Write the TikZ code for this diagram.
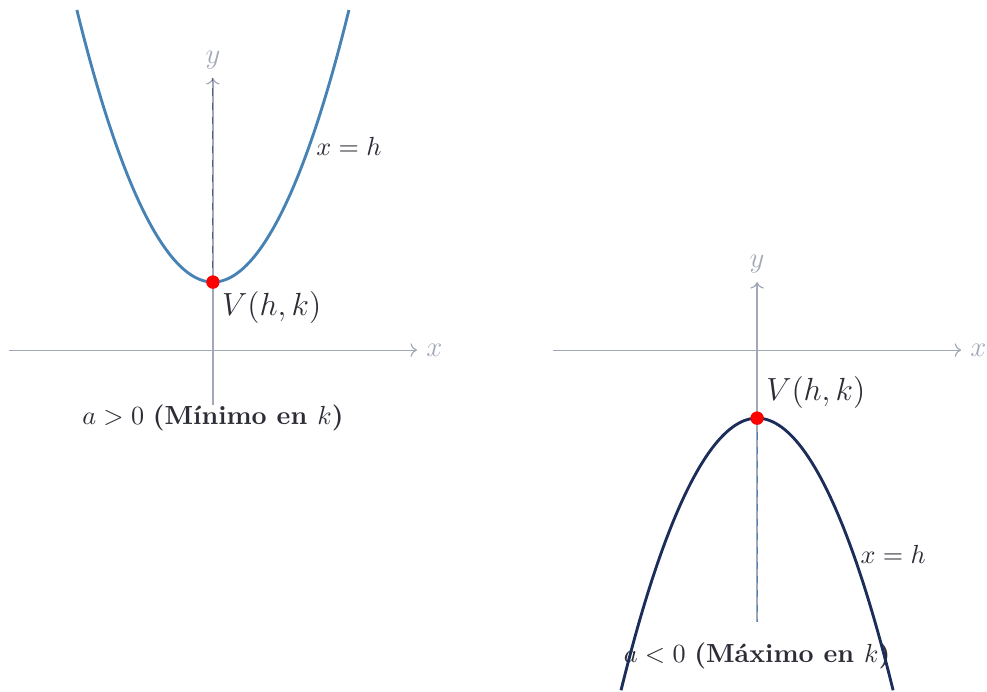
\documentclass[11pt,tikz,border=0pt]{standalone}
\usepackage{amsmath,amssymb}
\usepackage{graphicx}
\usepackage{tikz}
\usetikzlibrary{arrows.meta,positioning}
\usepackage{xcolor}
\definecolor{cSteel}{RGB}{70,130,180}
\definecolor{cNavy}{RGB}{28,45,90}
\definecolor{cAxis}{RGB}{162,168,184}
\definecolor{cText}{RGB}{45,45,55}
\definecolor{cDash}{RGB}{85,95,125}
\newcommand{\vtxlab}{\scalebox{0.93}{$V(h,k)$}}
\tikzset{
  axisline/.style={->,line width=0.5pt,color=cAxis},
  axislabel/.style={font=\large,text=cAxis},
  upcurve/.style={very thick,color=cSteel},
  downcurve/.style={very thick,color=cNavy},
  navydash/.style={dashed,thin,color=cDash},
  steeldash/.style={dashed,thin,color=cSteel},
  vertexdot/.style={circle,fill=red,inner sep=0pt,minimum size=5.5pt},
  vlabel/.style={font=\Large,text=cText},
  eqlabel/.style={text=cText},
  caplabel/.style={text=cText}
}

\begin{document}
\begin{tikzpicture}
  \useasboundingbox (-3.13,-5.015) rectangle (11.38,5.147);

  % a > 0
  \coordinate (Lxl) at (-3,0);
  \coordinate (Lxr) at (3,0);
  \coordinate (Lyb) at (0,-0.8);
  \coordinate (Lyt) at (0,4);
  \draw[axisline] (Lxl) -- (Lxr) node[axislabel,right] (Lxlab) {$x$};
  \draw[axisline] (Lyb) -- (Lyt) node[axislabel,above] (Lylab) {$y$};
  \node[vertexdot] (Lv) at (0,1) {};
  \draw[navydash] (Lv.center) -- (Lyt);
  \draw[upcurve] (-2,5) parabola bend (0,1) (2,5);
  \node[vertexdot] at (Lv) {};
  \node[vlabel,below right] (Lvlab) at (Lv.center) {\vtxlab};
  \node[eqlabel] (Leq) at (2,3) {$x=h$};
  \node[caplabel] (Lcap) at (0,-1) {$a>0$ \textbf{(Mínimo en $k$)}};

  % a < 0
  \begin{scope}[xshift=8cm]
    \coordinate (Rxl) at (-3,0);
    \coordinate (Rxr) at (3,0);
    \coordinate (Ryb) at (0,-4);
    \coordinate (Ryt) at (0,1);
    \draw[axisline] (Rxl) -- (Rxr) node[axislabel,right] (Rxlab) {$x$};
    \draw[axisline] (Ryb) -- (Ryt) node[axislabel,above] (Rylab) {$y$};
    \node[vertexdot] (Rv) at (0,-1) {};
    \draw[steeldash] (Rv.center) -- (Ryb);
    \node[caplabel] (Rcap) at (0,-4.5) {$a<0$ \textbf{(Máximo en $k$)}};
    \draw[downcurve] (-2,-5) parabola bend (0,-1) (2,-5);
    \node[vertexdot] at (Rv) {};
    \node[vlabel,above right] (Rvlab) at (Rv.center) {\vtxlab};
    \node[eqlabel] (Req) at (2,-3) {$x=h$};
  \end{scope}
\end{tikzpicture}
\end{document}
